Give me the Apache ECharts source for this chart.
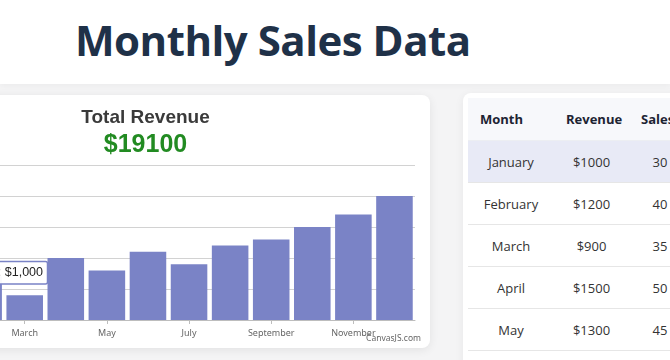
<!DOCTYPE html>
<html>
<head>
<meta charset="utf-8">
<script src="https://cdn.jsdelivr.net/npm/echarts@6/dist/echarts.min.js"></script>
<style>
  html, body { margin:0; padding:0; }
  body { width:670px; height:360px; overflow:hidden; position:relative; background:#f4f4f5; font-family:"Open Sans", "Noto Sans", sans-serif; }
  #header { position:absolute; left:0; top:0; width:670px; height:84px; background:#ffffff; box-shadow:0 2px 6px rgba(0,0,0,0.04); }
  #header h1 { position:absolute; left:75px; top:12px; margin:0; font-family:"Open Sans", sans-serif; font-weight:700; font-size:42px; letter-spacing:-0.5px; color:#1f3148; line-height:56px; white-space:nowrap; }
  #chartCard { position:absolute; left:-150px; top:95px; width:580px; height:253px; background:#fff; border-radius:8px; box-shadow:0 2px 10px rgba(0,0,0,0.08); }
  #chart { position:absolute; left:0; top:0; width:580px; height:253px; }
  #tableCard { position:absolute; left:463px; top:93px; width:260px; height:300px; background:#fff; border-radius:8px; box-shadow:0 2px 10px rgba(0,0,0,0.06); }
  table { position:absolute; left:5px; top:5px; border-collapse:collapse; font-family:"Open Sans", sans-serif; color:#333; }
  th { height:42px; background:#f7f8fb; font-weight:700; font-size:13px; text-align:left; padding:0 0 0 12px; color:#1d2433; border-bottom:1px solid #eceef2; }
  td { height:41px; font-size:13px; text-align:center; padding:0; border-bottom:1px solid #e6e6e6; }
  tr.hl td { background:#e8eaf6; }
  col.c1 { width:86px; } col.c2 { width:75px; } col.c3 { width:62px; }
</style>
</head>
<body>
<div id="header"><h1>Monthly Sales Data</h1></div>
<div id="chartCard"><div id="chart"></div></div>
<div id="tableCard">
  <table id="tbl">
    <colgroup><col class="c1"><col class="c2"><col class="c3"></colgroup>
    <thead><tr><th>Month</th><th>Revenue</th><th>Sales</th></tr></thead>
    <tbody id="tbody"></tbody>
  </table>
</div>
<script>
// ---- data ----
var months = ["January","February","March","April","May","June","July","August","September","October","November","December"];
var revenue = [1000, 1200, 900, 1500, 1300, 1600, 1400, 1700, 1800, 2000, 2200, 2500];
var salesCount = [30, 40, 35, 50, 45];
var yTicks = { min: 500, max: 3000, interval: 500 };
var chartTitle = "Total Revenue";
var totalText = "$19100";
var tooltipText = "January: $1,000";
var creditText = "CanvasJS.com";

// ---- table ----
var tb = document.getElementById('tbody');
for (var i = 0; i < salesCount.length + 1; i++) {
  var tr = document.createElement('tr');
  if (i === 0) tr.className = 'hl';
  var m = months[i], r = '$' + revenue[i], s = (i < salesCount.length) ? salesCount[i] : '';
  tr.innerHTML = '<td>' + m + '</td><td>' + r + '</td><td>' + s + '</td>';
  tb.appendChild(tr);
}

// ---- chart ----
var chart = echarts.init(document.getElementById('chart'), null, { renderer: 'canvas' });
var barColor = '#7a83c6';
chart.setOption({
  animation: false,
  grid: { left: 72, right: 15, top: 70, bottom: 28 },
  xAxis: {
    type: 'category',
    data: months,
    axisLine: { lineStyle: { color: '#bdbdbd', width: 1 } },
    axisTick: { show: true, interval: 1, alignWithLabel: true, length: 4, lineStyle: { color: '#bdbdbd' } },
    axisLabel: { interval: 1, fontSize: 9, color: '#666', fontFamily: 'Noto Sans', margin: 9 }
  },
  yAxis: {
    type: 'value',
    min: yTicks.min, max: yTicks.max, interval: yTicks.interval,
    axisLine: { show: false }, axisTick: { show: false },
    axisLabel: { show: true, color: '#666', fontSize: 10, formatter: function (v) { return '$' + v; } },
    splitLine: { lineStyle: { color: '#d2d2d2', width: 1 } }
  },
  series: [{
    type: 'bar',
    data: revenue,
    barCategoryGap: '11%',
    itemStyle: { color: barColor }
  }],
  graphic: [
    { type: 'text', x: 295.5, y: 23, z: 10,
      style: { text: chartTitle, fontSize: 19, fontWeight: 'bold', fontFamily: 'Liberation Sans', fill: '#3a3a3a',
               align: 'center', verticalAlign: 'middle', textAlign: 'center', textVerticalAlign: 'middle' } },
    { type: 'text', x: 295.5, y: 50.5, z: 10,
      style: { text: totalText, fontSize: 25, fontWeight: 'bold', fontFamily: 'Liberation Sans', fill: '#228b22',
               align: 'center', verticalAlign: 'middle', textAlign: 'center', textVerticalAlign: 'middle' } },
    { type: 'rect', z: 100,
      shape: { x: 40, y: 166.5, width: 157.5, height: 22.5, r: 2 },
      style: { fill: 'rgba(255,255,255,0.95)', stroke: barColor, lineWidth: 1.5 } },
    { type: 'text', x: 193, y: 178, z: 101,
      style: { text: tooltipText, fontSize: 12.5, fontFamily: 'Liberation Sans', fill: '#222',
               align: 'right', verticalAlign: 'middle', textAlign: 'right', textVerticalAlign: 'middle' } },
    { type: 'text', x: 571, y: 243.5, z: 20,
      style: { text: creditText, fontSize: 8.5, fontFamily: 'Noto Sans', fill: '#666',
               align: 'right', verticalAlign: 'middle', textAlign: 'right', textVerticalAlign: 'middle' } }
  ]
});
</script>
</body>
</html>
